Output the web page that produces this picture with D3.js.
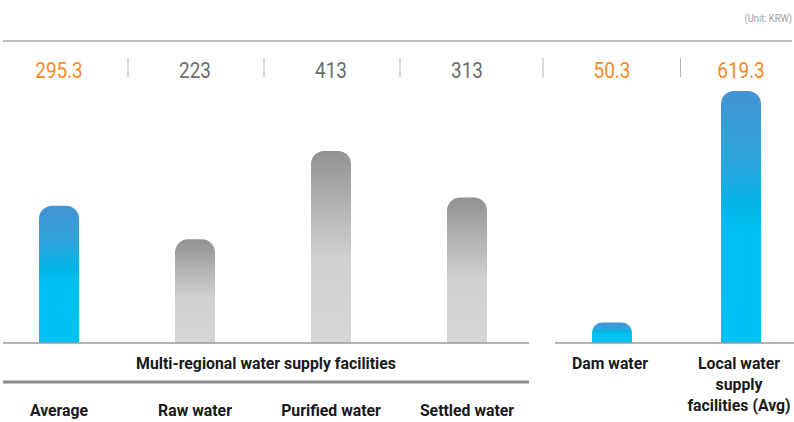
<!DOCTYPE html>
<html>
<head>
<meta charset="utf-8">
<script src="https://cdn.jsdelivr.net/npm/d3@7"></script>
<style>
  body { margin: 0; background: #fff; }
  svg { display: block; font-family: Roboto, "Liberation Sans", sans-serif; }
</style>
</head>
<body>
<script>
// chart data
var leftCategories = ["Average", "Raw water", "Purified water", "Settled water"];
var leftValues = [295.3, 223, 413, 313];
var leftLabels = ["295.3", "223", "413", "313"];
var leftHighlight = [true, false, false, false];

var rightCategories = ["Dam water", "Local water supply facilities (Avg)"];
var rightValues = [50.3, 619.3];
var rightLabels = ["50.3", "619.3"];
var rightHighlight = [true, true];
var rightLabelLines = [["Dam water"], ["Local water", "supply", "facilities (Avg)"]];

var groupTitle = "Multi-regional water supply facilities";
var unitText = "(Unit: KRW)";

var width = 794, height = 422;
var baseY = 343;      // bar baseline
var barW = 40;        // bar width
var valueY = 78;      // baseline of value labels
var squeeze = 0.93;   // horizontal squeeze for the condensed look of labels

var svg = d3.select("body").append("svg")
    .attr("width", width)
    .attr("height", height);

// gradients for the two bar colours
var defs = svg.append("defs");
var blue = defs.append("linearGradient").attr("id", "gBlue")
    .attr("x1", 0).attr("y1", 0).attr("x2", 0).attr("y2", 1);
[[0, "#4493d3"], [0.28, "#2ba5dc"], [0.45, "#03b3e6"], [0.56, "#00bff2"], [1, "#00c1f4"]]
  .forEach(function(s) { blue.append("stop").attr("offset", s[0]).attr("stop-color", s[1]); });
var gray = defs.append("linearGradient").attr("id", "gGray")
    .attr("x1", 0).attr("y1", 0).attr("x2", 0).attr("y2", 1);
[[0, "#929292"], [0.55, "#d0d0d2"], [1, "#d6d6d8"]]
  .forEach(function(s) { gray.append("stop").attr("offset", s[0]).attr("stop-color", s[1]); });

// scales: each panel has its own x and y scale
var xLeft = d3.scaleBand().domain(leftCategories).range([-9, 535]);
var xRight = d3.scaleBand().domain(rightCategories).range([547.5, 805.5]);
var yLeft = d3.scaleLinear().domain([0, 413]).range([baseY, baseY - 192]);
var yRight = d3.scaleLinear().domain([0, 619.3]).range([baseY, baseY - 252]);

// bar with rounded top corners
function barPath(cx, top) {
  var h = baseY - top;
  var r = Math.min(13, h / 2);
  var x0 = cx - barW / 2, x1 = cx + barW / 2;
  var p = d3.path();
  p.moveTo(x0, baseY);
  p.lineTo(x0, top + r);
  p.arcTo(x0, top, x0 + r, top, r);
  p.lineTo(x1 - r, top);
  p.arcTo(x1, top, x1, top + r, r);
  p.lineTo(x1, baseY);
  p.closePath();
  return p.toString();
}

// text placed at (x, y) and squeezed horizontally
function label(x, y, sx) {
  return svg.append("g")
    .attr("transform", "translate(" + x + "," + y + ") scale(" + sx + ",1)")
    .append("text")
    .attr("text-anchor", "middle");
}

function drawPanel(cats, vals, labels, hi, x, y) {
  var rows = cats.map(function(c, i) { return { cat: c, v: vals[i], label: labels[i], hi: hi[i] }; });
  var cx = function(d) { return x(d.cat) + x.bandwidth() / 2; };

  svg.selectAll(null).data(rows).enter().append("path")
    .attr("d", function(d) { return barPath(cx(d), y(d.v)); })
    .attr("fill", function(d) { return d.hi ? "url(#gBlue)" : "url(#gGray)"; });

  rows.forEach(function(d) {
    label(cx(d), valueY, 0.86)
      .attr("font-size", 22)
      .attr("fill", d.hi ? "#f58a25" : "#6d6e71")
      .text(d.label);
  });
  return rows;
}

var leftRows = drawPanel(leftCategories, leftValues, leftLabels, leftHighlight, xLeft, yLeft);
var rightRows = drawPanel(rightCategories, rightValues, rightLabels, rightHighlight, xRight, yRight);

// separators between value labels
var seps = leftCategories.slice(1).map(function(c) { return xLeft(c) + 1; })
  .concat([543])
  .concat(rightCategories.slice(1).map(function(c) { return xRight(c) + 4; }));
svg.selectAll(null).data(seps).enter().append("line")
  .attr("x1", function(d) { return d; }).attr("x2", function(d) { return d; })
  .attr("y1", 58).attr("y2", 77)
  .attr("stroke", "#b5b5b5").attr("stroke-width", 1);

// top rule and unit
svg.append("line").attr("x1", 3).attr("x2", 792).attr("y1", 41).attr("y2", 41)
  .attr("stroke", "#a8a8a8").attr("stroke-width", 1.5);
svg.append("text").attr("x", 792).attr("y", 22).attr("text-anchor", "end")
  .attr("font-size", 11).attr("fill", "#a0a0a0")
  .attr("transform", "translate(792,0) scale(0.85,1) translate(-792,0)")
  .text(unitText);

// baselines
svg.append("line").attr("x1", 3).attr("x2", 529).attr("y1", baseY).attr("y2", baseY)
  .attr("stroke", "#9a9a9a").attr("stroke-width", 1.5);
svg.append("line").attr("x1", 555).attr("x2", 794).attr("y1", baseY).attr("y2", baseY)
  .attr("stroke", "#9a9a9a").attr("stroke-width", 1.5);
svg.append("line").attr("x1", 3).attr("x2", 529).attr("y1", 382).attr("y2", 382)
  .attr("stroke", "#8a8a8a").attr("stroke-width", 3);

// group title
label(266, 369, squeeze)
  .attr("font-size", 17).attr("font-weight", "bold").attr("fill", "#1a1a1a")
  .text(groupTitle);

// category labels, left panel
leftRows.forEach(function(d) {
  label(xLeft(d.cat) + xLeft.bandwidth() / 2, 416, squeeze)
    .attr("font-size", 17).attr("font-weight", "bold").attr("fill", "#1a1a1a")
    .text(d.cat);
});

// category labels, right panel (multi-line)
rightRows.forEach(function(d, i) {
  var t = label(xRight(d.cat) + xRight.bandwidth() / 2 - 2, 369, squeeze)
    .attr("font-size", 17).attr("font-weight", "bold").attr("fill", "#1a1a1a");
  rightLabelLines[i].forEach(function(line, k) {
    t.append("tspan").attr("x", 0)
      .attr("dy", k === 0 ? 0 : 21).text(line);
  });
});
</script>
</body>
</html>
